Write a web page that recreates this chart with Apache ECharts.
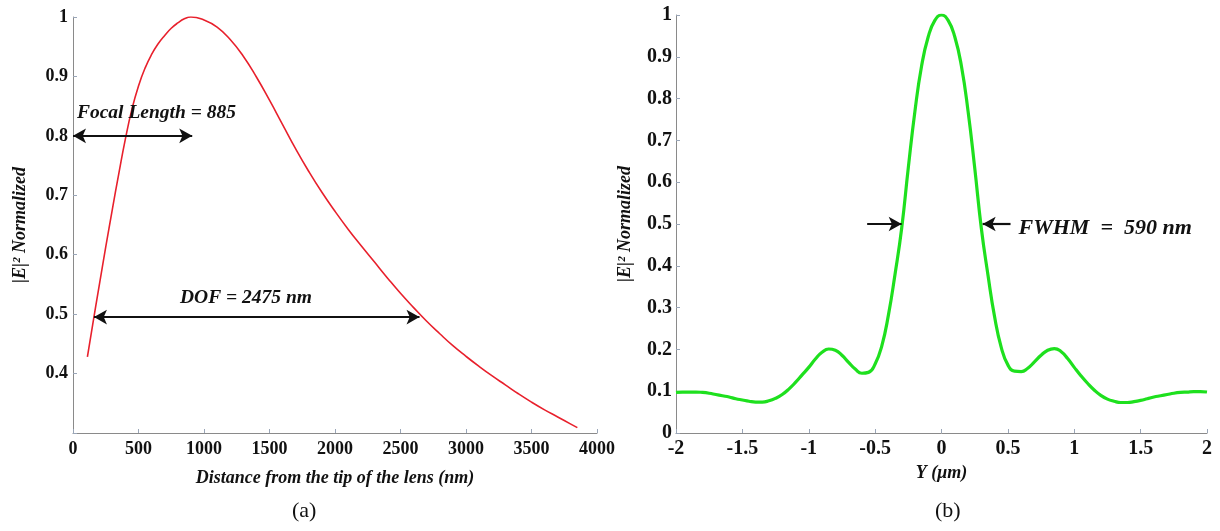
<!DOCTYPE html>
<html><head><meta charset="utf-8">
<script src="https://cdn.jsdelivr.net/npm/echarts@6/dist/echarts.min.js"></script>
<style>html,body{margin:0;padding:0;background:#fff}#c{width:1220px;height:531px}</style>
</head><body><div id="c"></div><script>
// ---- Panel (a): intensity along the axis ----
const distNm = [110,150,200,250,300,350,400,450,500,550,600,650,700,750,800,850,900,1000,1100,1200,1300,1400,1500,1600,1700,1800,1900,2000,2100,2200,2300,2400,2500,2600,2700,2800,2900,3000,3100,3200,3300,3400,3500,3600,3700,3800,3850];
const intensityA = [0.428,0.482,0.548,0.613,0.676,0.737,0.795,0.845,0.884,0.914,0.937,0.955,0.969,0.981,0.990,0.997,1.0,0.995,0.983,0.962,0.934,0.899,0.860,0.819,0.778,0.740,0.705,0.673,0.643,0.615,0.588,0.561,0.535,0.511,0.488,0.467,0.447,0.429,0.412,0.396,0.381,0.366,0.352,0.339,0.327,0.315,0.309];
const xTicksA = [0,500,1000,1500,2000,2500,3000,3500,4000];
const yTicksA = [0.4,0.5,0.6,0.7,0.8,0.9,1];
// annotations (a)
const focalArrow = [[0,0.8],[910,0.8]];
const dofArrow = [[160,0.495],[2645,0.495]];
const focalText = {name:'Focal Length = 885', at:[30,0.838]};
const dofText = {name:'DOF = 2475 nm', at:[817,0.527]};

// ---- Panel (b): transverse profile ----
const yUm = [-2,-1.95,-1.9,-1.85,-1.8,-1.75,-1.7,-1.65,-1.6,-1.55,-1.5,-1.45,-1.4,-1.35,-1.3,-1.25,-1.2,-1.15,-1.1,-1.05,-1,-0.95,-0.9,-0.85,-0.8,-0.75,-0.7,-0.65,-0.6,-0.55,-0.5,-0.45,-0.4,-0.35,-0.3,-0.25,-0.2,-0.15,-0.1,-0.05,0,0.05,0.1,0.15,0.2,0.25,0.3,0.35,0.4,0.45,0.5,0.55,0.6,0.65,0.7,0.75,0.8,0.85,0.9,0.95,1,1.05,1.1,1.15,1.2,1.25,1.3,1.35,1.4,1.45,1.5,1.55,1.6,1.65,1.7,1.75,1.8,1.85,1.9,1.95,2];
const intensityB = [0.097,0.098,0.098,0.098,0.097,0.095,0.092,0.089,0.086,0.082,0.079,0.076,0.074,0.074,0.077,0.083,0.092,0.105,0.121,0.139,0.157,0.177,0.193,0.201,0.198,0.186,0.169,0.153,0.143,0.145,0.165,0.208,0.282,0.380,0.490,0.635,0.770,0.878,0.948,0.987,1.0,0.987,0.948,0.878,0.770,0.635,0.490,0.378,0.278,0.205,0.163,0.148,0.147,0.155,0.170,0.186,0.198,0.202,0.195,0.178,0.157,0.137,0.119,0.103,0.090,0.081,0.076,0.073,0.073,0.075,0.078,0.082,0.086,0.089,0.092,0.095,0.097,0.098,0.099,0.099,0.098];
const xTicksB = [-2,-1.5,-1,-0.5,0,0.5,1,1.5,2];
const yTicksB = [0,0.1,0.2,0.3,0.4,0.5,0.6,0.7,0.8,0.9,1];
// annotations (b)
const fwhmLeftArrow = [[-0.56,0.5],[-0.3,0.5]];
const fwhmRightArrow = [[0.52,0.5],[0.31,0.5]];
const fwhmText = {name:'FWHM  =  590 nm', at:[0.58,0.49]};

const SERIF = "'Liberation Serif','DejaVu Serif',serif";
const zip = (a,b)=>a.map((v,i)=>[v,b[i]]);
const fmt = v => String(+(+v).toFixed(1));

function axisCommon(fontSize){
  return {
    axisLine:{show:true,onZero:false,lineStyle:{color:'#8a8a8a',width:1}},
    axisTick:{show:true,inside:true,length:4,lineStyle:{color:'#9aa6b8'}},
    splitLine:{show:false},
    axisLabel:{color:'#111',fontFamily:SERIF,fontWeight:'bold',fontSize:fontSize}
  };
}
function textPoint(t){
  return {name:t.name, coord:t.at};
}
function textLabel(size){
  return {show:true,position:'right',distance:0,formatter:p=>p.name,color:'#111',
    fontFamily:SERIF,fontWeight:'bold',fontStyle:'italic',fontSize:size};
}
const nameStyle = {fontFamily:SERIF,fontWeight:'bold',fontStyle:'italic',fontSize:18,color:'#111'};

const chart = echarts.init(document.getElementById('c'),null,{renderer:'canvas'});
chart.setOption({
  animation:false,
  backgroundColor:'#fff',
  grid:[
    {left:73,top:17,width:524,height:416},
    {left:676,top:15,width:531,height:418}
  ],
  xAxis:[
    Object.assign(axisCommon(18),{gridIndex:0,type:'value',min:xTicksA[0],max:xTicksA[xTicksA.length-1],interval:500,
      axisLabel:Object.assign(axisCommon(18).axisLabel,{margin:7,formatter:v=>String(v)}),
      name:'Distance from the tip of the lens (nm)',nameLocation:'middle',nameGap:36,nameTextStyle:nameStyle}),
    Object.assign(axisCommon(20),{gridIndex:1,type:'value',min:xTicksB[0],max:xTicksB[xTicksB.length-1],interval:0.5,
      axisLabel:Object.assign(axisCommon(20).axisLabel,{margin:6,formatter:v=>fmt(v)}),
      name:'Y (\u03bcm)',nameLocation:'middle',nameGap:30,nameTextStyle:nameStyle})
  ],
  yAxis:[
    Object.assign(axisCommon(18),{gridIndex:0,type:'value',min:0.3,max:1,interval:0.1,
      axisLabel:Object.assign(axisCommon(18).axisLabel,{margin:5,formatter:v=>yTicksA.indexOf(+(+v).toFixed(1))>=0?fmt(v):''}),
      name:'|E|\u00b2 Normalized',nameLocation:'middle',nameGap:44,nameRotate:90,nameTextStyle:nameStyle}),
    Object.assign(axisCommon(20),{gridIndex:1,type:'value',min:yTicksB[0],max:yTicksB[yTicksB.length-1],interval:0.1,
      axisLabel:Object.assign(axisCommon(20).axisLabel,{margin:4,formatter:v=>fmt(v)}),
      name:'|E|\u00b2 Normalized',nameLocation:'middle',nameGap:42,nameRotate:90,nameTextStyle:nameStyle})
  ],
  series:[
    {type:'line',xAxisIndex:0,yAxisIndex:0,data:zip(distNm,intensityA),showSymbol:false,smooth:0.5,
     lineStyle:{color:'#e8202c',width:1.6},itemStyle:{color:'#e8202c'},silent:true,
     markLine:{silent:true,symbol:['arrow','arrow'],symbolSize:[11,13],label:{show:false},
       lineStyle:{color:'#111',width:2.2,type:'solid'},
       data:[[{coord:focalArrow[0]},{coord:focalArrow[1]}],[{coord:dofArrow[0]},{coord:dofArrow[1]}]]},
     markPoint:{silent:true,symbol:'circle',symbolSize:0,label:textLabel(19.5),
       data:[textPoint(focalText),textPoint(dofText)]}
    },
    {type:'line',xAxisIndex:1,yAxisIndex:1,data:zip(yUm,intensityB),showSymbol:false,smooth:0.5,
     lineStyle:{color:'#1ee01e',width:3.2},itemStyle:{color:'#1ee01e'},silent:true,
     markLine:{silent:true,symbol:['none','arrow'],symbolSize:[11,13],label:{show:false},
       lineStyle:{color:'#111',width:2.2,type:'solid'},
       data:[[{coord:fwhmLeftArrow[0]},{coord:fwhmLeftArrow[1]}],[{coord:fwhmRightArrow[0]},{coord:fwhmRightArrow[1]}]]},
     markPoint:{silent:true,symbol:'circle',symbolSize:0,label:textLabel(22),
       data:[textPoint(fwhmText)]}
    }
  ],
  graphic:[
    {type:'text',left:292,top:500,style:{text:'(a)',font:"22px 'Liberation Serif'",fill:'#111'}},
    {type:'text',left:935,top:500,style:{text:'(b)',font:"22px 'Liberation Serif'",fill:'#111'}}
  ]
});
</script></body></html>
